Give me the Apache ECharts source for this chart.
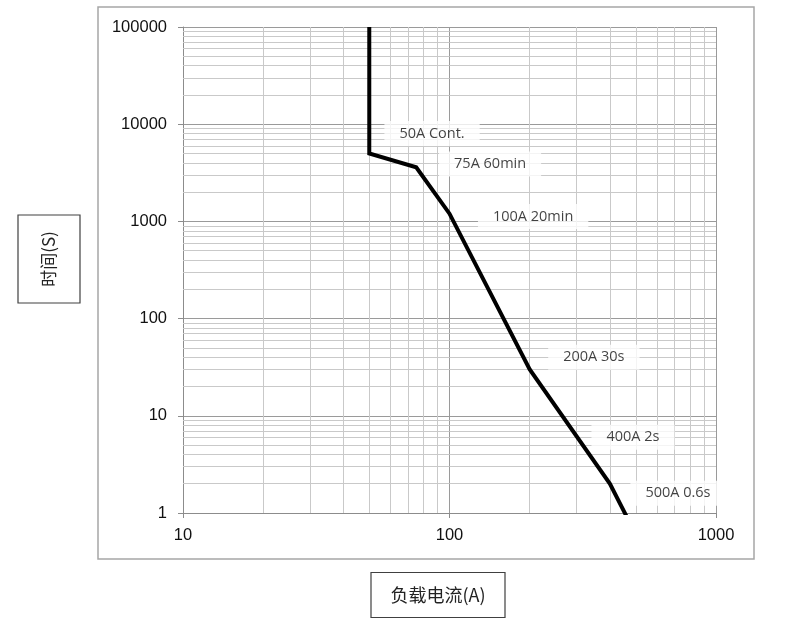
<!DOCTYPE html>
<html>
<head>
<meta charset="utf-8">
<script src="https://cdn.jsdelivr.net/npm/echarts@6/dist/echarts.min.js"></script>
<style>html,body{margin:0;padding:0;background:#fff;}#c{width:800px;height:630px;}</style>
</head>
<body>
<div id="c"></div>
<script>
// Curve points: [current (A), time (s)]
var curveCurrent = [50, 50, 75, 100, 200, 400, 500];
var curveTime = [100000, 5000, 3600, 1200, 30, 2, 0.6];
// Annotation texts and their anchor positions in data space
var noteText = ['50A Cont.', '75A 60min', '100A 20min', '200A 30s', '400A 2s', '500A 0.6s'];
var noteX = [86, 142, 206, 348, 488, 720];
var noteY = [8000, 3900, 1120, 40, 6.0, 1.6];
// Minor grid values
var xMinor = [20, 30, 40, 50, 60, 70, 80, 90, 200, 300, 400, 500, 600, 700, 800, 900];
var yMinor = [2, 3, 4, 5, 6, 7, 8, 9, 20, 30, 40, 50, 60, 70, 80, 90,
  200, 300, 400, 500, 600, 700, 800, 900, 2000, 3000, 4000, 5000, 6000, 7000, 8000, 9000,
  20000, 30000, 40000, 50000, 60000, 70000, 80000, 90000];
var xTitle = '负载电流(A)';
var yTitle = '时间(S)';

var curve = curveCurrent.map(function (c, i) { return [c, curveTime[i]]; });
var notes = noteText.map(function (t, i) { return { value: [noteX[i], noteY[i]], name: t }; });
var minorLines = xMinor.map(function (v) { return { xAxis: v }; })
  .concat(yMinor.map(function (v) { return { yAxis: v }; }));
function plain(v) { return String(Math.round(v)); }

var chart = echarts.init(document.getElementById('c'));
chart.setOption({
  animation: false,
  backgroundColor: '#fff',
  grid: { left: 183, right: 84, top: 27, bottom: 117 },
  xAxis: {
    type: 'log', logBase: 10, min: 10, max: 1000,
    axisLine: { show: true, lineStyle: { color: '#8c8c8c', width: 1 } },
    axisTick: { show: true, length: 5, lineStyle: { color: '#8c8c8c' } },
    axisLabel: { fontFamily: 'Liberation Sans', fontSize: 16.5, color: '#111', margin: 14, formatter: plain },
    splitLine: { show: true, lineStyle: { color: '#9a9a9a', width: 1 } },
    minorTick: { show: false }
  },
  yAxis: {
    type: 'log', logBase: 10, min: 1, max: 100000,
    axisLine: { show: true, lineStyle: { color: '#8c8c8c', width: 1 } },
    axisTick: { show: true, length: 5, lineStyle: { color: '#8c8c8c' } },
    axisLabel: { fontFamily: 'Liberation Sans', fontSize: 16.5, color: '#111', margin: 16, formatter: plain },
    splitLine: { show: true, lineStyle: { color: '#9a9a9a', width: 1 } }
  },
  graphic: [
    { type: 'rect', shape: { x: 98, y: 7, width: 656, height: 552 }, style: { fill: 'none', stroke: '#a6a6a6', lineWidth: 1.5 }, z: 0 },
    { type: 'group', x: 49, y: 259, rotation: Math.PI / 2, children: [
      { type: 'rect', shape: { x: -44, y: -31, width: 88, height: 62 }, style: { fill: '#fff', stroke: '#404040', lineWidth: 1.2 } },
      { type: 'text', x: 0, y: 0, style: { text: yTitle, fontSize: 17, fontFamily: 'Noto Sans CJK SC', fill: '#222', align: 'center', verticalAlign: 'middle' } }
    ] },
    { type: 'group', x: 438, y: 595, children: [
      { type: 'rect', shape: { x: -67, y: -22.5, width: 134, height: 45 }, style: { fill: '#fff', stroke: '#404040', lineWidth: 1.2 } },
      { type: 'text', x: 0, y: 0, style: { text: xTitle, fontSize: 18, fontFamily: 'Noto Sans CJK SC', fill: '#222', align: 'center', verticalAlign: 'middle' } }
    ] }
  ],
  series: [
    {
      type: 'line', data: curve, symbol: 'none', silent: true, z: 1,
      lineStyle: { width: 0, opacity: 0 },
      markLine: {
        silent: true, symbol: 'none', label: { show: false }, animation: false,
        lineStyle: { color: '#c9c9c9', width: 1, type: 'solid' },
        data: minorLines
      }
    },
    {
      type: 'line', data: curve, symbol: 'none', z: 5, clip: true,
      lineStyle: { color: '#000', width: 4, join: 'miter' }
    },
    {
      type: 'scatter', data: notes, symbolSize: 0, z: 10, silent: true,
      label: {
        show: true, position: 'inside', formatter: '{b}',
        fontFamily: 'Open Sans', fontSize: 14.5, color: '#111',
        textBorderWidth: 0, textBorderColor: 'transparent', textShadowBlur: 0,
        backgroundColor: '#ffffff', padding: [5, 15]
      }
    }
  ]
});
</script>
</body>
</html>
